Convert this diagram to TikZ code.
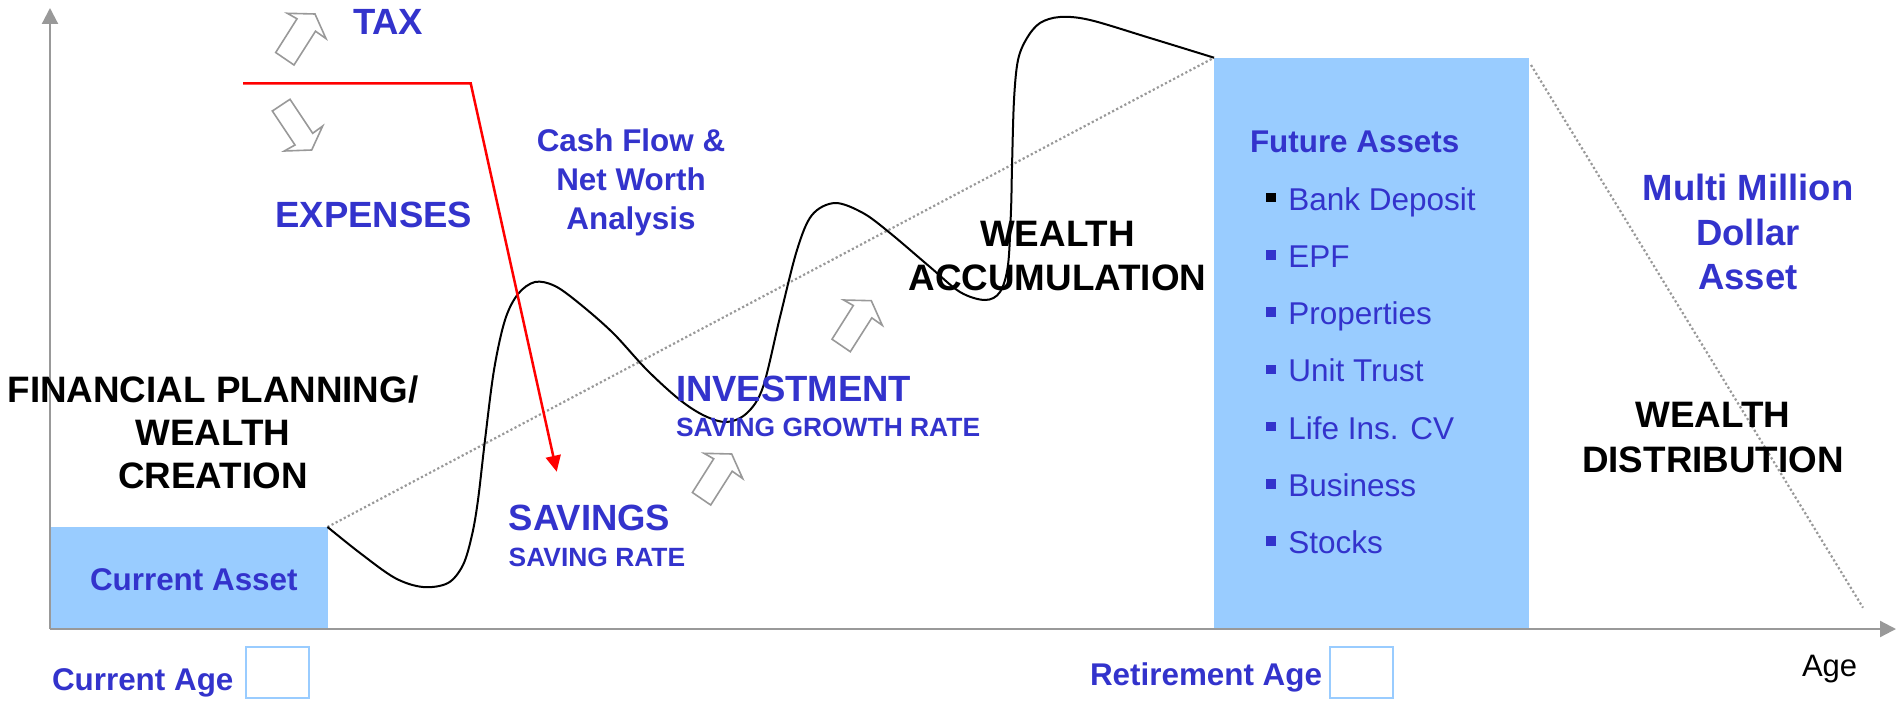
\documentclass[tikz,border=0pt]{standalone}
\usepackage{fontspec}
\setmainfont{Liberation Sans}
\usetikzlibrary{arrows.meta}
\definecolor{tblue}{HTML}{3333CC}
\definecolor{lblue}{HTML}{99CCFF}
\definecolor{agray}{HTML}{999999}
\begin{document}
\begin{tikzpicture}[x=1pt,y=-1pt,
  every node/.style={inner sep=0pt, outer sep=0pt},
  bbig/.style={font=\bfseries\fontsize{36.5}{44}\selectfont, text=tblue, anchor=base west},
  bmid/.style={font=\bfseries\fontsize{31.4}{38}\selectfont, text=tblue},
  bsmall/.style={font=\bfseries\fontsize{26.4}{32}\selectfont, text=tblue, anchor=base west},
  kbig/.style={font=\bfseries\fontsize{36.8}{44}\selectfont, text=black, anchor=base},
  item/.style={font=\fontsize{31.5}{38}\selectfont, text=tblue, anchor=base west},
  bul/.style={fill=tblue, minimum size=9.5pt},
  boxfill/.style={fill=lblue, draw=none, anchor=north west},
  agebox/.style={draw=lblue, line width=2pt, fill=white, minimum width=63pt, minimum height=51pt, anchor=north west},
  axis/.style={agray, line width=2.2pt, -{Triangle[length=16pt,width=16pt]}},
  dots/.style={agray, line width=2.2pt, dash pattern=on 2.2pt off 2.4pt},
  uparr/.pic={\draw[agray,line width=1.6pt,fill=white,line join=miter] (18.3,51.7)--(0,39.2)--(21.3,5.5)--(11.6,0)--(39.3,0.7)--(50.3,25.3)--(39.8,17.9)--cycle;},
  dnarr/.pic={\draw[agray,line width=1.6pt,fill=white,line join=miter] (0,11.7)--(17.7,0)--(40.4,34)--(50.4,26.7)--(39.4,50.7)--(12,51.7)--(22.7,45.7)--cycle;}
]
\useasboundingbox (0,0) rectangle (1897,701);

% boxes
\node[boxfill, minimum width=277.5pt, minimum height=102pt] (cabox) at (50,527) {};
\node[boxfill, minimum width=314.7pt, minimum height=571.3pt] (fabox) at (1214,57.7) {};

% dotted trend lines
\coordinate (dend) at (1863,607.7);
\coordinate (dstart) at (1531,65);
\draw[dots] (cabox.north east) -- (fabox.north west);
\draw[dots] (dstart) -- (dend);

% wealth curve
\draw[line width=2pt, line join=round] plot[smooth, tension=0.55] coordinates {
 (327.5,527) (360,553) (395,578) (423,587) (448,583) (463,565) (472,535) (478,500)
 (485,440) (494,370) (505,320) (518,294) (535,282) (555,286) (580,304) (613,333)
 (647,370) (680,400) (705,416) (727,422) (747,413) (763,387) (780,317) (797,250)
 (812,215) (835,203) (863,213) (890,233) (930,267) (960,292) (985,300) (1000,292)
 (1008,265) (1011,210) (1012,167) (1014,100) (1018,60) (1027,38) (1040,23) (1060,17)
 (1090,20) (1150,38) (1214,57.7)};

% block arrows
\pic at (275.7,13.3) {uparr};
\pic at (272.3,99.3) {dnarr};
\pic at (692.4,453.3) {uparr};
\pic at (832,300) {uparr};

% red arrow
\coordinate (r0) at (243,83.3);
\coordinate (r1) at (470.7,83.3);
\coordinate (r2) at (556.7,471.7);
\draw[red, line width=2.5pt, line join=miter, -{Triangle[length=16pt,width=15pt]}] (r0) -- (r1) -- (r2);

% axes
\coordinate (o) at (50,629);
\coordinate (ytop) at (50,8);
\coordinate (xend) at (1896,629);
\draw[axis] (o) -- (ytop);
\draw[axis] (o) -- (xend);

% texts
\node[bbig] (tax) at (353,35) {TAX};
\node[bbig] (exp) at (275.5,227) {EXPENSES};
\node[bmid, anchor=base] (cf1) at (631,151.5) {Cash Flow \&};
\node[bmid, anchor=base] (cf2) at (631,190.5) {Net Worth};
\node[bmid, anchor=base] (cf3) at (631,229.5) {Analysis};

\node[kbig] (fp1) at (213,402) {FINANCIAL PLANNING/};
\node[kbig] (fp2) at (213,445) {WEALTH};
\node[kbig] (fp3) at (213,488) {CREATION};

\node[bbig] (sav) at (508.7,530) {SAVINGS};
\node[bsmall] (savr) at (508.7,566.5) {SAVING RATE};
\node[bbig] (inv) at (676,401.7) {INVESTMENT};
\node[bsmall] (invr) at (676,436.7) {SAVING GROWTH RATE};

\node[kbig] (wa1) at (1057.5,246.7) {WEALTH};
\node[kbig] (wa2) at (1057.5,290) {ACCUMULATION};

\node[bmid, anchor=base west] (fut) at (1250,152) {Future Assets};
\foreach \t [count=\i from 0] in {Bank Deposit,EPF,Properties,Unit Trust,Life Ins. CV,Business,Stocks}{
  \node[item] (it\i) at (1288.3,210+57.25*\i) {\t};
  \ifnum\i=0
    \node[bul, fill=black] (b\i) at (1271.2,197.5+57.25*\i) {};
  \else
    \node[bul] (b\i) at (1271.2,197.5+57.25*\i) {};
  \fi
}

\node[bbig, anchor=base] (mm1) at (1748,200) {Multi Million};
\node[bbig, anchor=base] (mm2) at (1748,245) {Dollar};
\node[bbig, anchor=base] (mm3) at (1748,289) {Asset};

\node[kbig] (wd1) at (1713,427.5) {WEALTH};
\node[kbig] (wd2) at (1713,472) {DISTRIBUTION};

\node[bmid, anchor=base west] (cat) at (90,590) {Current Asset};

\node[bmid, anchor=base west] (cage) at (52,690) {Current Age};
\node[agebox] (cagebox) at (246,647) {};
\node[bmid, anchor=base west] (rage) at (1090,685) {Retirement Age};
\node[agebox] (ragebox) at (1330,647) {};
\node[font=\fontsize{31}{37}\selectfont, anchor=base west] (age) at (1802,676.7) {Age};
\end{tikzpicture}
\end{document}
